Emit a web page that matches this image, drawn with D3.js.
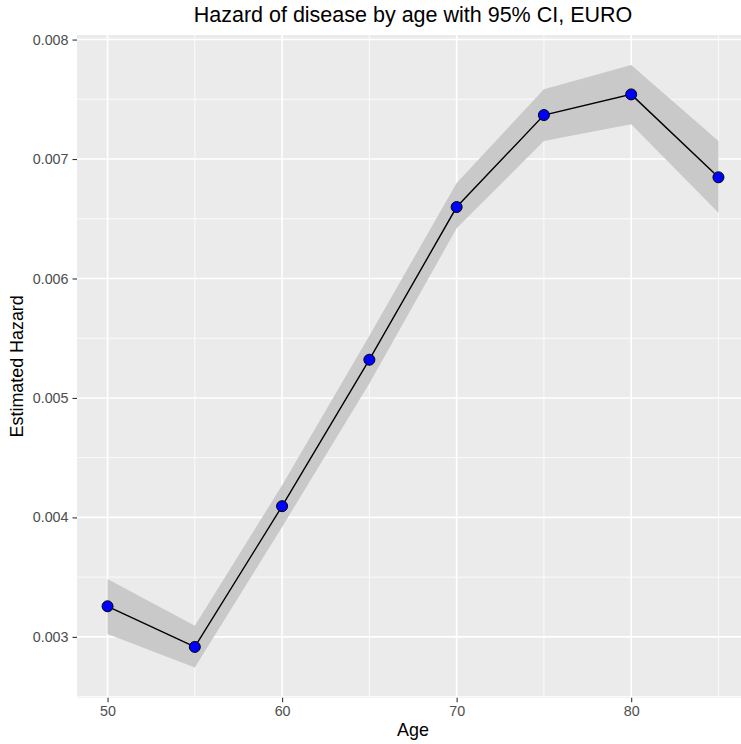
<!DOCTYPE html>
<html>
<head>
<meta charset="utf-8">
<script src="https://cdn.jsdelivr.net/npm/d3@7"></script>
<style>
  body { margin: 0; background: #fff; }
  svg { display: block; font-family: "Liberation Sans", Arial, sans-serif; }
</style>
</head>
<body>
<svg id="chart"></svg>
<script>
/* données */
const ages = [50, 55, 60, 65, 70, 75, 80, 85]
const hazard = [0.003256, 0.002916, 0.004094, 0.005320, 0.006598, 0.007368, 0.007541, 0.006847]
const lower = [0.003025, 0.002743, 0.003920, 0.005120, 0.006420, 0.007150, 0.007292, 0.006551]
const upper = [0.003485, 0.003094, 0.004270, 0.005520, 0.006800, 0.007583, 0.007786, 0.007150]
const xTicks = [50, 60, 70, 80]
const xMinor = [55, 65, 75, 85]
const yTicks = [0.003, 0.004, 0.005, 0.006, 0.007, 0.008]
const yMinor = [0.0025, 0.0035, 0.0045, 0.0055, 0.0065, 0.0075]

const width = 741, height = 744
const panel = { left: 77, right: 749, top: 35, bottom: 697.7 }

const values = ages.map((a, i) => ({ age: a, est: hazard[i], lo: lower[i], hi: upper[i] }))

const svg = d3.select('#chart').attr('width', width).attr('height', height)

/* échelles avec l'expansion de 5% façon ggplot */
const xExt = d3.extent(ages)
const xPad = (xExt[1] - xExt[0]) * 0.05
const xScale = d3.scaleLinear()
  .domain([xExt[0] - xPad, xExt[1] + xPad])
  .range([panel.left, panel.right])

const yExt = [d3.min(lower), d3.max(upper)]
const yPad = (yExt[1] - yExt[0]) * 0.05
const yScale = d3.scaleLinear()
  .domain([yExt[0] - yPad, yExt[1] + yPad])
  .range([panel.bottom, panel.top])

/* fond du panneau */
svg.append('rect')
  .attr('x', panel.left).attr('y', panel.top)
  .attr('width', panel.right - panel.left)
  .attr('height', panel.bottom - panel.top)
  .attr('fill', '#EBEBEB')

const grid = svg.append('g')

grid.selectAll('.ymin').data(yMinor).enter().append('line')
  .attr('x1', panel.left).attr('x2', panel.right)
  .attr('y1', d => yScale(d)).attr('y2', d => yScale(d))
  .attr('stroke', '#fff').attr('stroke-width', 0.8)

grid.selectAll('.xmin').data(xMinor).enter().append('line')
  .attr('y1', panel.top).attr('y2', panel.bottom)
  .attr('x1', d => xScale(d)).attr('x2', d => xScale(d))
  .attr('stroke', '#fff').attr('stroke-width', 0.8)

grid.selectAll('.ymaj').data(yTicks).enter().append('line')
  .attr('x1', panel.left).attr('x2', panel.right)
  .attr('y1', d => yScale(d)).attr('y2', d => yScale(d))
  .attr('stroke', '#fff').attr('stroke-width', 1.6)

grid.selectAll('.xmaj').data(xTicks).enter().append('line')
  .attr('y1', panel.top).attr('y2', panel.bottom)
  .attr('x1', d => xScale(d)).attr('x2', d => xScale(d))
  .attr('stroke', '#fff').attr('stroke-width', 1.6)

/* bande de l'intervalle de confiance */
const band = d3.area()
  .x(d => xScale(d.age))
  .y0(d => yScale(d.lo))
  .y1(d => yScale(d.hi))

svg.append('path')
  .datum(values)
  .attr('d', band)
  .attr('fill', '#C9C9C9')

const line = d3.line()
  .x(d => xScale(d.age))
  .y(d => yScale(d.est))

svg.append('path')
  .datum(values)
  .attr('d', line)
  .attr('fill', 'none')
  .attr('stroke', '#000')
  .attr('stroke-width', 1.4)

svg.selectAll('circle')
  .data(values)
  .enter()
  .append('circle')
  .attr('cx', d => xScale(d.age))
  .attr('cy', d => yScale(d.est))
  .attr('r', 5.5)
  .attr('fill', '#0000FF')
  .attr('stroke', '#000')
  .attr('stroke-width', 1)

/* axes */
const xAxis = d3.axisBottom(xScale)
  .tickValues(xTicks)
  .tickFormat(d3.format('d'))
  .tickSize(4.5)
  .tickPadding(4)

const yAxis = d3.axisLeft(yScale)
  .tickValues(yTicks)
  .tickFormat(d3.format('.3f'))
  .tickSize(4.5)
  .tickPadding(4)

const styleAxis = g => {
  g.select('.domain').remove()
  g.selectAll('.tick line').attr('stroke', '#333333').attr('stroke-width', 1.1)
  g.selectAll('.tick text')
    .attr('fill', '#4D4D4D')
    .style('font-size', '14.3px')
    .style('font-family', '"Liberation Sans", Arial, sans-serif')
}

svg.append('g')
  .attr('transform', 'translate(0,' + panel.bottom + ')')
  .call(xAxis)
  .call(styleAxis)

svg.append('g')
  .attr('transform', 'translate(' + panel.left + ',0)')
  .call(yAxis)
  .call(styleAxis)

/* titres */
const midX = (panel.left + panel.right) / 2

svg.append('text')
  .attr('x', midX)
  .attr('y', 22)
  .attr('text-anchor', 'middle')
  .style('font-size', '21.5px')
  .attr('fill', '#000')
  .text('Hazard of disease by age with 95% CI, EURO')

svg.append('text')
  .attr('x', midX)
  .attr('y', 736)
  .attr('text-anchor', 'middle')
  .style('font-size', '17.9px')
  .attr('fill', '#000')
  .text('Age')

svg.append('text')
  .attr('transform', 'rotate(-90)')
  .attr('x', -(panel.top + panel.bottom) / 2)
  .attr('y', 23)
  .attr('text-anchor', 'middle')
  .style('font-size', '17.9px')
  .attr('fill', '#000')
  .text('Estimated Hazard')
</script>
</body>
</html>
